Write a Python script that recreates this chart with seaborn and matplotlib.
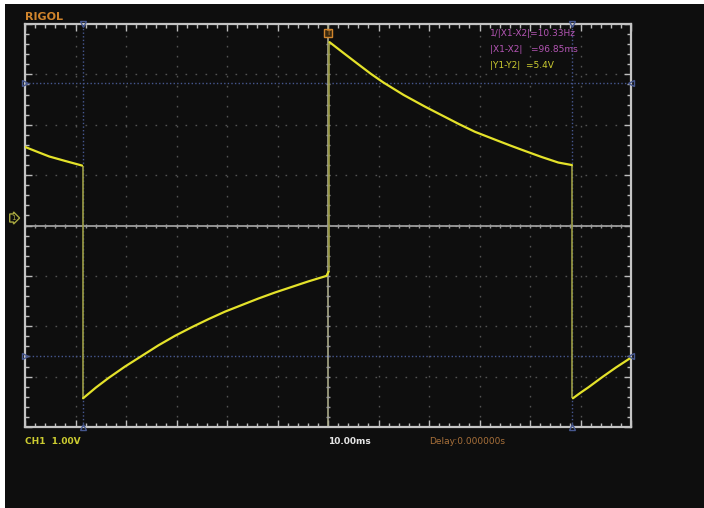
import numpy as np
import pandas as pd
import matplotlib
matplotlib.use("Agg")
import matplotlib.pyplot as plt
from matplotlib.ticker import MultipleLocator
import seaborn as sns


# trace: time in ms (10 ms/div), volts (1 V/div)
seg_a_t = [-60.0, -57.5, -55.2, -52.0, -48.7]
seg_a_v = [1.56, 1.46, 1.37, 1.28, 1.19]

seg_b_t = [-48.5, -46.0, -43.5, -40.2, -36.9, -33.6, -30.3, -27.0, -23.7,
           -20.4, -17.1, -13.8, -10.5, -7.2, -3.9, -0.3, 0.1]
seg_b_v = [-3.43, -3.22, -3.03, -2.80, -2.59, -2.38, -2.19, -2.02, -1.86,
           -1.71, -1.58, -1.45, -1.33, -1.22, -1.11, -1.00, -0.92]

seg_c_t = [0.3, 3.0, 6.0, 8.5, 10.95, 15.0, 19.2, 22.5, 25.8, 29.1,
           33.7, 36.3, 39.0, 42.3, 45.6, 48.3]
seg_c_v = [3.64, 3.43, 3.20, 3.01, 2.84, 2.59, 2.36, 2.19, 2.02, 1.86,
           1.68, 1.58, 1.48, 1.36, 1.25, 1.20]

seg_d_t = [48.5, 50.0, 51.6, 54.3, 57.0, 59.9]
seg_d_v = [-3.43, -3.32, -3.21, -3.01, -2.82, -2.63]

# square wave edges (time, from, to)
edge_t = [-48.6, 0.2, 48.4]
edge_from = [1.19, -0.92, 1.20]
edge_to = [-3.43, 3.64, -3.43]

# cursors
cur_x1, cur_x2 = -48.6, 48.25
cur_y1, cur_y2 = 2.83, -2.59

readout_lines = ["1/|X1-X2|=10.33Hz", "|X1-X2|   =96.85ms", "|Y1-Y2|  =5.4V"]
ch_label = "CH1  1.00V"
tb_label = "10.00ms"
delay_label = "Delay:0.000000s"


trace = pd.concat([
    pd.DataFrame({"t": seg_a_t, "v": seg_a_v, "seg": "a"}),
    pd.DataFrame({"t": seg_b_t, "v": seg_b_v, "seg": "b"}),
    pd.DataFrame({"t": seg_c_t, "v": seg_c_v, "seg": "c"}),
    pd.DataFrame({"t": seg_d_t, "v": seg_d_v, "seg": "d"}),
], ignore_index=True)

sns.set_theme(style="dark")
plt.rcParams["font.family"] = ["DejaVu Sans"]

W, H = 704, 508


def px(x, y):
    # pixel position on the screenshot -> figure coords
    return x / W, 1 - y / H


fig = plt.figure(figsize=(W / 100, H / 100), dpi=100, facecolor="white")

# black screen behind everything
bg = fig.add_axes([5 / W, 0, (W - 5) / W, (H - 4) / H])
bg.set_facecolor("#0e0e0e")
bg.set_xticks([])
bg.set_yticks([])
for s in bg.spines.values():
    s.set_visible(False)

left, top, right, bottom = 25, 24, 631, 427
ax = fig.add_axes([left / W, 1 - bottom / H, (right - left) / W, (bottom - top) / H])
ax.set_facecolor("#0e0e0e")
ax.set_xlim(-60, 60)
ax.set_ylim(-4, 4)

# dotted graticule, one dot every 0.2 div
ax.set_xticks(np.arange(-60, 61, 10))
ax.set_yticks(np.arange(-4, 5, 1))
ax.xaxis.set_minor_locator(MultipleLocator(2))
ax.yaxis.set_minor_locator(MultipleLocator(0.2))
ax.grid(True, which="major", color="#525252", linestyle=(0, (1.2, 6.0)), linewidth=1.0)
ax.tick_params(which="major", direction="in", length=5, width=1, color="#bdbdbd",
               top=True, right=True, bottom=True, left=True,
               labelbottom=False, labelleft=False)
ax.tick_params(which="minor", direction="in", length=3, width=1, color="#bdbdbd",
               top=True, right=True, bottom=True, left=True)
for s in ax.spines.values():
    s.set_color("#c4c4c4")
    s.set_linewidth(1.6)

# center cross with its own small ticks
ax.axhline(0, color="#aaaaaa", lw=1.2, zorder=2)
ax.axvline(0, color="#a8a888", lw=1.2, zorder=2)
xt = np.arange(-60, 61, 2)
ax.scatter(xt, np.zeros_like(xt), marker="|", s=12, color="#9a9a9a", linewidths=1, zorder=2)
yt = np.arange(-4, 4.01, 0.2)
ax.scatter(np.zeros_like(yt), yt, marker="_", s=12, color="#9a9a9a", linewidths=1, zorder=2)

# cursors
cur_col = "#46578f"
for xc in (cur_x1, cur_x2):
    ax.axvline(xc, color=cur_col, lw=1, linestyle=(0, (1, 1.6)), zorder=3)
    ax.plot(xc, 4, marker="v", ms=5, mfc="none", mec=cur_col, clip_on=False, zorder=6)
    ax.plot(xc, -4, marker="^", ms=5, mfc="none", mec=cur_col, clip_on=False, zorder=6)
for yc in (cur_y1, cur_y2):
    ax.axhline(yc, color=cur_col, lw=1, linestyle=(0, (1, 1.6)), zorder=3)
    ax.plot(-60, yc, marker=">", ms=5, mfc="none", mec=cur_col, clip_on=False, zorder=6)
    ax.plot(60, yc, marker="<", ms=5, mfc="none", mec=cur_col, clip_on=False, zorder=6)

# waveform: dim edges, bright decay curves
ax.vlines(edge_t, edge_from, edge_to, color="#9c9c44", lw=1.2, zorder=4)
sns.lineplot(data=trace, x="t", y="v", units="seg", estimator=None, sort=False,
             color="#e4e22a", lw=1.6, ax=ax, legend=False, zorder=5)
ax.set_xlabel("")
ax.set_ylabel("")

# screen texts
fig.text(*px(25, 17), "RIGOL", color="#d0842c", fontsize=8, fontweight="bold", va="center")
fig.text(*px(490, 33), readout_lines[0], color="#b455b4", fontsize=6.5, va="center")
fig.text(*px(490, 50), readout_lines[1], color="#b455b4", fontsize=6.5, va="center")
fig.text(*px(490, 65), readout_lines[2], color="#cccc30", fontsize=6.5, va="center")
fig.text(*px(25, 442), ch_label, color="#cccc30", fontsize=6.5, fontweight="bold", va="center")
fig.text(*px(328, 442), tb_label, color="#e6e6e6", fontsize=6.5, fontweight="bold", va="center")
fig.text(*px(429, 442), delay_label, color="#a8703a", fontsize=6.5, va="center")

# channel 1 ground marker and trigger marker
fig.text(*px(13, 218), "1", color="#a8a840", fontsize=5, va="center", ha="center",
         bbox=dict(boxstyle="rarrow,pad=0.15", fc="none", ec="#a8a840", lw=1))
fig.text(*px(328, 33), "T", color="#d0842c", fontsize=5, va="center", ha="center",
         bbox=dict(boxstyle="square,pad=0.2", fc="#3a2a10", ec="#d0842c", lw=1))

fig.savefig("out.png", dpi=100, facecolor=fig.get_facecolor())
